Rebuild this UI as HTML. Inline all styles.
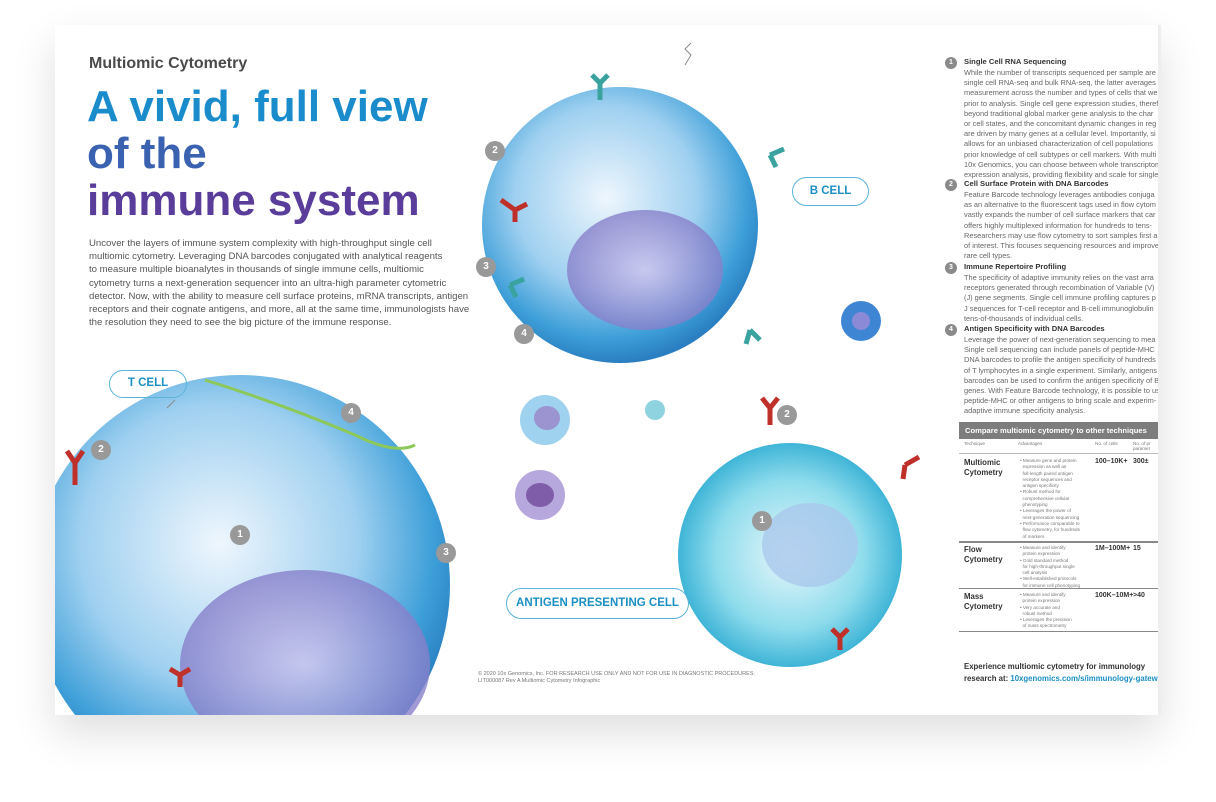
<!DOCTYPE html>
<html><head><meta charset="utf-8"><style>
*{margin:0;padding:0;box-sizing:border-box}
body{width:1216px;height:802px;background:#fff;position:relative;overflow:hidden;font-family:"Liberation Sans",sans-serif}
#card{position:absolute;left:55px;top:25px;width:1106px;height:690px;background:#fff;overflow:hidden;box-shadow:0 18px 40px rgba(0,0,0,.13)}
.a{position:absolute;white-space:nowrap}
.t{font-size:7.4px;line-height:10.2px;color:#666}
.h{font-size:7.6px;font-weight:bold;color:#333;line-height:10px}
.n{position:absolute;width:12px;height:12px;border-radius:50%;background:#8a8a8a;color:#fff;font-size:7px;font-weight:bold;text-align:center;line-height:12px}
.nb{position:absolute;width:20px;height:20px;border-radius:50%;background:#999;color:#fff;font-size:10px;font-weight:bold;text-align:center;line-height:20px}
.pill{position:absolute;border:1.5px solid #5ab4d8;border-radius:16px;color:#1b8fc4;font-weight:bold;font-size:11.5px;text-align:center}
.sm{font-size:5.5px;line-height:7px;color:#777}
.nm{font-size:7px;font-weight:bold;color:#333}
.adv{font-size:4.6px;color:#777;line-height:6.3px}
</style></head><body>
<div id="card">
<svg width="1106" height="690" style="position:absolute;left:0;top:0">
<defs>
<radialGradient id="g1" cx="45%" cy="40%" r="60%"><stop offset="0" stop-color="#eef6fd"/><stop offset=".55" stop-color="#9fd0f0"/><stop offset=".85" stop-color="#3e9fd8"/><stop offset="1" stop-color="#2a7fc2"/></radialGradient>
<radialGradient id="g2" cx="50%" cy="50%" r="55%"><stop offset="0" stop-color="#cfc6ee"/><stop offset="1" stop-color="#7f78c6"/></radialGradient>
<radialGradient id="g3" cx="50%" cy="50%" r="55%"><stop offset="0" stop-color="#e9f7fb"/><stop offset=".6" stop-color="#8fdcec"/><stop offset="1" stop-color="#28a9d1"/></radialGradient>
</defs>
<circle cx="185" cy="560" r="210" fill="url(#g1)"/>
<ellipse cx="250" cy="640" rx="125" ry="95" fill="url(#g2)" opacity=".8"/>
<circle cx="565" cy="200" r="138" fill="url(#g1)"/>
<ellipse cx="590" cy="245" rx="78" ry="60" fill="url(#g2)" opacity=".8"/>
<circle cx="735" cy="530" r="112" fill="url(#g3)"/>
<ellipse cx="755" cy="520" rx="48" ry="42" fill="#a9c8ec" opacity=".8"/>
<circle cx="490" cy="395" r="25" fill="#9fd2ee"/><ellipse cx="492" cy="393" rx="13" ry="12" fill="#9b94d0"/>
<circle cx="485" cy="470" r="25" fill="#b6a8dd"/><ellipse cx="485" cy="470" rx="14" ry="12" fill="#7f5da8"/>
<circle cx="600" cy="385" r="10" fill="#8fd3e0"/>
<circle cx="806" cy="296" r="20" fill="#3e86d4"/><circle cx="806" cy="296" r="9" fill="#8a8ad6"/>
<path d="M150 355 Q230 380 300 410 Q340 430 360 420" stroke="#8cc85a" stroke-width="3" fill="none"/>
<g stroke="#c0302a" stroke-width="5" fill="none">
<path d="M20 460 l0 -25 M20 438 l-8 -12 M20 438 l8 -12"/>
<path d="M460 185 l-14 -10 M460 185 l12 -6 M460 185 l0 12"/>
<path d="M715 400 l0 -20 M715 383 l-8 -10 M715 383 l8 -10"/>
<path d="M850 440 l14 -8 M850 440 l-2 14"/>
<path d="M785 625 l0 -15 M785 612 l-8 -8 M785 612 l8 -8"/>
<path d="M125 662 l0 -15 M125 650 l-10 -6 M125 650 l10 -6"/>
</g>
<g stroke="#3aa3a0" stroke-width="5" fill="none">
<path d="M545 75 l0 -20 M545 58 l-8 -8 M545 58 l8 -8"/>
<path d="M715 130 l14 -6 M715 130 l6 12"/>
<path d="M695 305 l10 10 M695 305 l-4 14"/>
<path d="M455 260 l14 -6 M455 260 l6 12"/>
</g>
<g stroke="#8a8a8a" stroke-width="1" fill="none"><path d="M630 40 l6 -10 l-6 -6 l6 -6"/><path d="M120 375 l-8 8"/></g>
</svg>

<div class="a" style="left:34px;top:30px;font-size:16px;font-weight:bold;color:#4a4a4a">Multiomic Cytometry</div>
<div class="a" style="left:32px;top:58px;font-size:44px;font-weight:bold;line-height:47px;color:#1a8ccc">A vivid, full view</div>
<div class="a" style="left:32px;top:105px;font-size:44px;font-weight:bold;line-height:47px;color:#3a62b0">of the</div>
<div class="a" style="left:32px;top:152px;font-size:44px;font-weight:bold;line-height:47px;color:#5a3d9a">immune system</div>
<div class="a" style="left:34px;top:212px;font-size:9.6px;line-height:13.2px;color:#555">Uncover the layers of immune system complexity with high-throughput single cell<br>multiomic cytometry. Leveraging DNA barcodes conjugated with analytical reagents<br>to measure multiple bioanalytes in thousands of single immune cells, multiomic<br>cytometry turns a next-generation sequencer into an ultra-high parameter cytometric<br>detector. Now, with the ability to measure cell surface proteins, mRNA transcripts, antigen<br>receptors and their cognate antigens, and more, all at the same time, immunologists have<br>the resolution they need to see the big picture of the immune response.</div>

<div class="pill" style="left:54px;top:345px;width:78px;height:28px;line-height:25px">T CELL</div>
<div class="pill" style="left:737px;top:152px;width:77px;height:29px;line-height:26px">B CELL</div>
<div class="pill" style="left:451px;top:563px;width:183px;height:31px;line-height:28px">ANTIGEN PRESENTING CELL</div>

<div class="nb" style="left:36px;top:415px">2</div>
<div class="nb" style="left:175px;top:500px">1</div>
<div class="nb" style="left:286px;top:378px">4</div>
<div class="nb" style="left:381px;top:518px">3</div>
<div class="nb" style="left:430px;top:116px">2</div>
<div class="nb" style="left:421px;top:232px">3</div>
<div class="nb" style="left:459px;top:299px">4</div>
<div class="nb" style="left:722px;top:380px">2</div>
<div class="nb" style="left:697px;top:486px">1</div>

<div class="a sm" style="left:423px;top:646px">© 2020 10x Genomics, Inc. FOR RESEARCH USE ONLY AND NOT FOR USE IN DIAGNOSTIC PROCEDURES.<br>LIT000087 Rev A Multiomic Cytometry Infographic</div>

<div class="n" style="left:890px;top:32px">1</div>
<div class="a h" style="left:909px;top:32px">Single Cell RNA Sequencing</div>
<div class="a t" style="left:909px;top:43px">While the number of transcripts sequenced per sample are<br>single cell RNA-seq and bulk RNA-seq, the latter averages<br>measurement across the number and types of cells that we<br>prior to analysis. Single cell gene expression studies, theref<br>beyond traditional global marker gene analysis to the char<br>or cell states, and the concomitant dynamic changes in reg<br>are driven by many genes at a cellular level. Importantly, si<br>allows for an unbiased characterization of cell populations<br>prior knowledge of cell subtypes or cell markers. With multi<br>10x Genomics, you can choose between whole transcriptom<br>expression analysis, providing flexibility and scale for single</div>
<div class="n" style="left:890px;top:154px">2</div>
<div class="a h" style="left:909px;top:154px">Cell Surface Protein with DNA Barcodes</div>
<div class="a t" style="left:909px;top:165px">Feature Barcode technology leverages antibodies conjuga<br>as an alternative to the fluorescent tags used in flow cytom<br>vastly expands the number of cell surface markers that car<br>offers highly multiplexed information for hundreds to tens-<br>Researchers may use flow cytometry to sort samples first a<br>of interest. This focuses sequencing resources and improve<br>rare cell types.</div>
<div class="n" style="left:890px;top:237px">3</div>
<div class="a h" style="left:909px;top:237px">Immune Repertoire Profiling</div>
<div class="a t" style="left:909px;top:248px">The specificity of adaptive immunity relies on the vast arra<br>receptors generated through recombination of Variable (V)<br>(J) gene segments. Single cell immune profiling captures p<br>J sequences for T-cell receptor and B-cell immunoglobulin<br>tens-of-thousands of individual cells.</div>
<div class="n" style="left:890px;top:299px">4</div>
<div class="a h" style="left:909px;top:299px">Antigen Specificity with DNA Barcodes</div>
<div class="a t" style="left:909px;top:310px">Leverage the power of next-generation sequencing to mea<br>Single cell sequencing can include panels of peptide-MHC<br>DNA barcodes to profile the antigen specificity of hundreds<br>of T lymphocytes in a single experiment. Similarly, antigens t<br>barcodes can be used to confirm the antigen specificity of B<br>genes. With Feature Barcode technology, it is possible to use<br>peptide-MHC or other antigens to bring scale and experim-<br>adaptive immune specificity analysis.</div>

<div class="a" style="left:904px;top:397px;width:202px;height:17px;background:#7d7d7d;color:#fff;font-size:7.6px;font-weight:bold;line-height:17px;padding-left:6px">Compare multiomic cytometry to other techniques</div>
<div class="a" style="left:909px;top:416px;font-size:4.6px;color:#777">Technique</div>
<div class="a" style="left:963px;top:416px;font-size:4.6px;color:#777">Advantages</div>
<div class="a" style="left:1040px;top:416px;font-size:4.6px;color:#777">No. of cells</div>
<div class="a" style="left:1078px;top:416px;font-size:4.6px;color:#777">No. of pr<br>paramet</div>
<div class="a" style="left:904px;top:428px;width:202px;border-top:1px solid #bbb"></div>
<div class="a" style="left:909px;top:433px;font-size:7.8px;font-weight:bold;color:#333;line-height:10px">Multiomic<br>Cytometry</div>
<div class="a adv" style="left:965px;top:433px">• Measure gene and protein<br>&nbsp;&nbsp;expression as well as<br>&nbsp;&nbsp;full-length paired antigen<br>&nbsp;&nbsp;receptor sequences and<br>&nbsp;&nbsp;antigen specificity<br>• Robust method for<br>&nbsp;&nbsp;comprehensive cellular<br>&nbsp;&nbsp;phenotyping<br>• Leverages the power of<br>&nbsp;&nbsp;next-generation sequencing<br>• Performance comparable to<br>&nbsp;&nbsp;flow cytometry, for hundreds<br>&nbsp;&nbsp;of markers</div>
<div class="a nm" style="left:1040px;top:433px">100–10K+</div>
<div class="a nm" style="left:1078px;top:433px">300±</div>
<div class="a" style="left:904px;top:516px;width:202px;border-top:2px solid #888"></div>
<div class="a" style="left:909px;top:520px;font-size:7.8px;font-weight:bold;color:#333;line-height:10px">Flow<br>Cytometry</div>
<div class="a adv" style="left:965px;top:520px">• Measure and identify<br>&nbsp;&nbsp;protein expression<br>• Gold standard method<br>&nbsp;&nbsp;for high-throughput single<br>&nbsp;&nbsp;cell analysis<br>• Well-established protocols<br>&nbsp;&nbsp;for immune cell phenotyping</div>
<div class="a nm" style="left:1040px;top:520px">1M–100M+</div>
<div class="a nm" style="left:1078px;top:520px">15</div>
<div class="a" style="left:904px;top:563px;width:202px;border-top:1px solid #888"></div>
<div class="a" style="left:909px;top:567px;font-size:7.8px;font-weight:bold;color:#333;line-height:10px">Mass<br>Cytometry</div>
<div class="a adv" style="left:965px;top:567px">• Measure and identify<br>&nbsp;&nbsp;protein expression<br>• Very accurate and<br>&nbsp;&nbsp;robust method<br>• Leverages the precision<br>&nbsp;&nbsp;of mass spectrometry</div>
<div class="a nm" style="left:1040px;top:567px">100K–10M+</div>
<div class="a nm" style="left:1078px;top:567px">&gt;40</div>
<div class="a" style="left:904px;top:606px;width:202px;border-top:1px solid #888"></div>
<div class="a" style="left:909px;top:636px;font-size:7.8px;font-weight:bold;color:#333;line-height:12px">Experience multiomic cytometry for immunology<br>research at: <span style="color:#1b8fc4">10xgenomics.com/s/immunology-gateway</span></div>
<div class="a" style="left:1103px;top:0;width:3px;height:690px;background:#eee"></div>
</div>
</body></html>
